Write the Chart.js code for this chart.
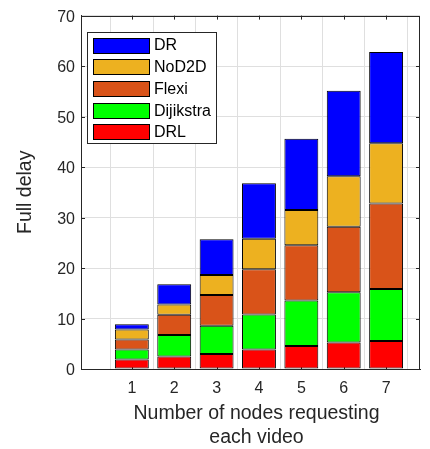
<!DOCTYPE html>
<html><head><meta charset="utf-8">
<script src="https://cdn.jsdelivr.net/npm/chart.js@4.4.0/dist/chart.umd.min.js"></script>
<style>html,body{margin:0;padding:0;background:#fff;} #wrap{width:430px;height:449px;}</style>
</head><body><div id="wrap"><canvas id="c" width="430" height="449"></canvas></div>
<script>
const categories = [1, 2, 3, 4, 5, 6, 7];
const xTickLabels = ['1', '2', '3', '4', '5', '6', '7'];
const yTickValues = [0, 10, 20, 30, 40, 50, 60, 70];
const seriesNames = ['DRL', 'Dijikstra', 'Flexi', 'NoD2D', 'DR'];
const DRL = [1.9, 2.5, 2.95, 3.87, 4.58, 5.24, 5.57];
const Dijikstra = [1.97, 4.24, 5.63, 6.93, 8.98, 9.96, 10.28];
const Flexi = [1.96, 4.01, 6.09, 8.98, 10.94, 13.0, 16.95];
const NoD2D = [1.97, 2.02, 3.93, 6.02, 7.0, 10.0, 11.9];
const DR = [1.04, 4.03, 7.1, 11.0, 14.1, 16.9, 18.1];
const seriesColors = ['#FF0000', '#00FF00', '#D95319', '#EDB120', '#0000FF'];
const xTitleLines = ['Number of nodes requesting', 'each video'];

const FONT = "'Liberation Sans', Arial, Helvetica, sans-serif";
const AXIS = '#262626';
const values = [DRL, Dijikstra, Flexi, NoD2D, DR];

const datasets = seriesNames.map((n, i) => ({
  label: n,
  data: categories.map((c, j) => ({ x: c, y: values[i][j] })),
  backgroundColor: seriesColors[i],
  borderColor: '#000',
  borderWidth: 1,
  borderSkipped: false,
  barPercentage: 0.8,
  categoryPercentage: 1.0
}));

const framePlugin = {
  id: 'frame',
  beforeDatasetsDraw(chart) {
    const { ctx, chartArea: a, scales } = chart;
    ctx.save();
    ctx.strokeStyle = AXIS;
    ctx.lineWidth = 1;
    ctx.beginPath();
    const tl = 4;
    yTickValues.forEach(v => {
      const y = Math.round(scales.y.getPixelForValue(v)) + 0.5;
      ctx.moveTo(a.left, y); ctx.lineTo(a.left + tl, y);
      ctx.moveTo(a.right, y); ctx.lineTo(a.right - tl, y);
    });
    categories.forEach(v => {
      const x = Math.round(scales.x.getPixelForValue(v)) + 0.5;
      ctx.moveTo(x, a.top); ctx.lineTo(x, a.top + tl);
      ctx.moveTo(x, a.bottom); ctx.lineTo(x, a.bottom - tl);
    });
    ctx.stroke();
    ctx.restore();
  },
  afterDatasetsDraw(chart) {
    const { ctx, chartArea: a } = chart;
    ctx.save();
    ctx.strokeStyle = AXIS;
    ctx.lineWidth = 1;
    ctx.beginPath();
    const t = Math.round(a.top) + 0.5, r = Math.round(a.right) - 0.5;
    ctx.moveTo(Math.round(a.left), t); ctx.lineTo(r + 0.5, t);
    ctx.moveTo(r, t); ctx.lineTo(r, Math.round(a.bottom));
    ctx.stroke();
    // x axis title (drawn as text, slightly right of centre like the reference)
    ctx.fillStyle = AXIS;
    ctx.font = '19.5px ' + FONT;
    ctx.textAlign = 'center';
    ctx.textBaseline = 'middle';
    const cx = (a.left + a.right) / 2 + 6;
    xTitleLines.forEach((line, i) => ctx.fillText(line, cx, 413.5 + i * 24));
    ctx.restore();
  }
};

const legendPlugin = {
  id: 'insideLegend',
  afterDraw(chart) {
    const { ctx } = chart;
    const bx = 87.5, by = 32.5, bw = 129, bh = 111;
    ctx.save();
    ctx.fillStyle = '#fff';
    ctx.fillRect(bx, by, bw, bh);
    ctx.strokeStyle = AXIS;
    ctx.lineWidth = 1;
    ctx.strokeRect(bx, by, bw, bh);
    ctx.font = '16px ' + FONT;
    ctx.textBaseline = 'middle';
    ctx.textAlign = 'left';
    const order = chart.data.datasets.map((d, i) => i).reverse();
    order.forEach((di, k) => {
      const ds = chart.data.datasets[di];
      const cy = 45 + k * 21.7;
      const sy = Math.round(cy - 7.5) + 0.5;
      ctx.fillStyle = ds.backgroundColor;
      ctx.fillRect(93.5, sy, 56, 15);
      ctx.strokeStyle = '#000';
      ctx.strokeRect(93.5, sy, 56, 15);
      ctx.fillStyle = '#000';
      ctx.fillText(ds.label, 154, cy + 1);
    });
    ctx.restore();
  }
};

new Chart(document.getElementById('c'), {
  type: 'bar',
  data: { datasets },
  options: {
    responsive: false,
    animation: false,
    devicePixelRatio: 1,
    layout: { padding: { left: 0, right: 10, top: 13, bottom: 0 } },
    plugins: { legend: { display: false }, tooltip: { enabled: false } },
    scales: {
      x: {
        type: 'linear',
        stacked: true,
        min: -0.2,
        max: 7.8,
        offset: false,
        afterBuildTicks: s => { s.ticks = categories.map(v => ({ value: v })); },
        afterFit: s => { s.height = 80; },
        ticks: {
          callback: v => xTickLabels[categories.indexOf(v)],
          font: { family: FONT, size: 16 },
          color: AXIS,
          padding: 10,
          maxRotation: 0,
          autoSkip: false
        },
        grid: { color: '#dfdfdf', drawTicks: false, lineWidth: 1 },
        border: { display: true, color: AXIS, width: 1 },
        title: { display: false }
      },
      y: {
        type: 'linear',
        stacked: true,
        min: 0,
        max: 70,
        afterBuildTicks: s => { s.ticks = yTickValues.map(v => ({ value: v })); },
        afterFit: s => { s.width = 81; },
        ticks: {
          font: { family: FONT, size: 16 },
          color: AXIS,
          padding: 6,
          labelOffset: 2
        },
        grid: { color: '#dfdfdf', drawTicks: false, lineWidth: 1 },
        border: { display: true, color: AXIS, width: 1 },
        title: {
          display: true,
          text: 'Full delay',
          font: { family: FONT, size: 19.5 },
          color: AXIS,
          padding: { top: 14, bottom: 0 }
        }
      }
    }
  },
  plugins: [framePlugin, legendPlugin]
});
</script>
</body></html>
